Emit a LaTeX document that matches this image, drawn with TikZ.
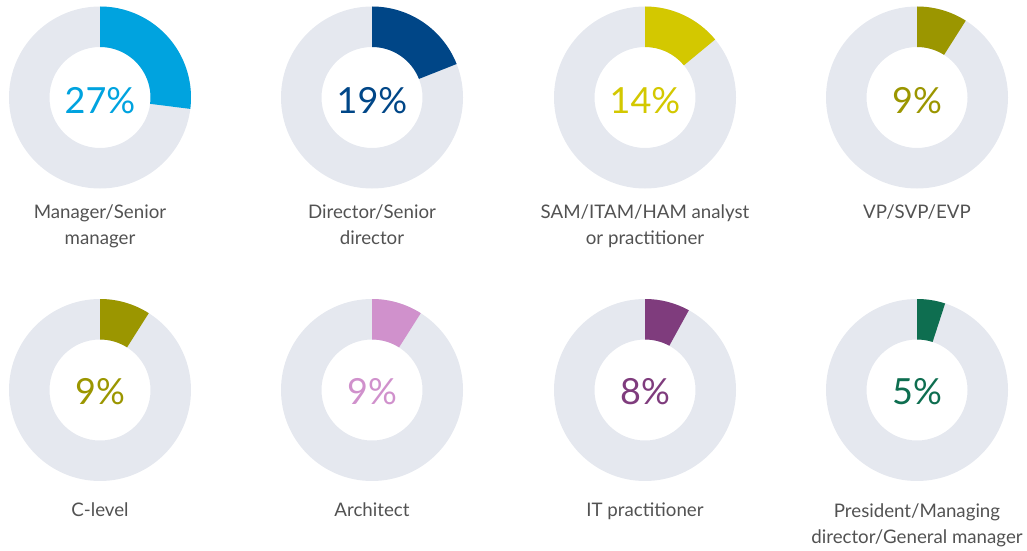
\documentclass[tikz,border=0pt]{standalone}
\usepackage{fontspec}
\setmainfont{Lato}
\usetikzlibrary{calc}
\definecolor{ring}{HTML}{E5E8EF}
\definecolor{lab}{HTML}{525252}
\definecolor{cA}{HTML}{00A3DF}
\definecolor{cB}{HTML}{004687}
\definecolor{cC}{HTML}{D3C800}
\definecolor{cD}{HTML}{9B9600}
\definecolor{cE}{HTML}{D091CC}
\definecolor{cF}{HTML}{7F3C7D}
\definecolor{cG}{HTML}{0E6E50}
\tikzset{
  pct/.style={font=\fontsize{36}{40}\selectfont, anchor=base, inner sep=0pt},
  lbl/.style={font=\fontsize{18.7}{26}\selectfont, text=lab, align=center, anchor=base, inner sep=0pt},
  ringfill/.style={fill=ring, even odd rule}
}
% name, cx, cy, pct, colour, label, pct baseline, label last-line baseline
\newcommand\mydonut[8]{%
  \pgfmathsetmacro\ang{90-3.6*#4}
  \coordinate (#1) at (#2,550-#3);
  \fill[ringfill] (#1) circle[radius=91] (#1) circle[radius=50.5];
  \fill[#5] ($(#1)+(90:91)$) arc[start angle=90,end angle=\ang,radius=91]
     -- ($(#1)+(\ang:50.5)$) arc[start angle=\ang,end angle=90,radius=50.5] -- cycle;
  \node[pct,text=#5] (#1p) at (#2,550-#7) {#4\%};
  \node[lbl] (#1l) at (#2,550-#8) {#6};
}
\begin{document}
\begin{tikzpicture}[x=1pt,y=1pt]
\useasboundingbox (0,0) rectangle (1027,550);
\mydonut{d1}{100}{97.5}{27}{cA}{Manager/Senior\\manager}{113.3}{244.3}
\mydonut{d2}{372}{97.5}{19}{cB}{Director/Senior\\director}{113.3}{244.3}
\mydonut{d3}{645}{97.5}{14}{cC}{SAM/ITAM/HAM analyst\\or practitioner}{113.3}{244.3}
\mydonut{d4}{917}{97.5}{9}{cD}{VP/SVP/EVP}{113.3}{218.3}
\mydonut{d5}{100}{390}{9}{cD}{C-level}{404.5}{516.7}
\mydonut{d6}{372}{390}{9}{cE}{Architect}{404.5}{516.7}
\mydonut{d7}{645}{390}{8}{cF}{IT practitioner}{404.5}{516.7}
\mydonut{d8}{917}{390}{5}{cG}{President/Managing\\director/General manager}{404.5}{543}
\end{tikzpicture}
\end{document}
